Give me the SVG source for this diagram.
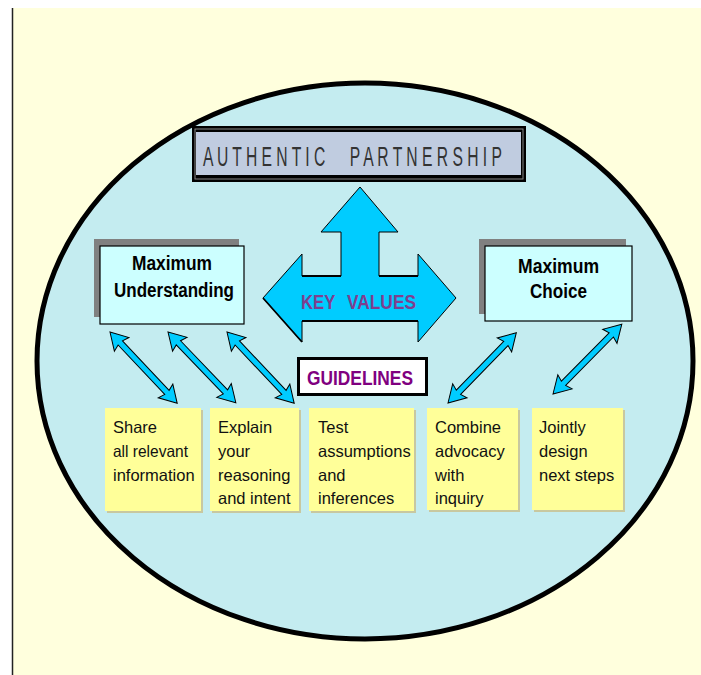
<svg xmlns="http://www.w3.org/2000/svg" xmlns:xlink="http://www.w3.org/1999/xlink" width="701" height="675" viewBox="0 0 701 675">
<style>
.lbl{font-family:"Liberation Sans",Arial,sans-serif;}
.box{fill:#CCFFFF;stroke:#000;stroke-width:1.2;}
.shadow{fill:#808080;}
.note{fill:#FFFF99;}
.noteShadow{fill:#C8C8A0;}
.ntext{font-family:"Liberation Sans",Arial,sans-serif;font-size:16.5px;fill:#111;}
.htext{font-family:"Liberation Sans",Arial,sans-serif;font-size:19.5px;font-weight:bold;fill:#000;}
.arrow{fill:#00CCFF;stroke:#000;stroke-width:1;stroke-linejoin:miter;}
.ap{font-family:"Liberation Sans",Arial,sans-serif;font-size:27px;fill:#333;}
.kv{font-family:"Liberation Sans",Arial,sans-serif;font-size:21px;font-weight:bold;fill:#7F3F8F;}
</style>
<defs>
<path id="dbl" d="M0,0 L17,-10 L15,-3 L83,-3 L81,-10 L98,0 L81,10 L83,3 L15,3 L17,10 Z"/>
</defs>
<rect x="0" y="0" width="701" height="675" fill="#FFFFFF"/>
<rect x="13" y="8" width="688" height="667" fill="#FFFFDD"/>
<line x1="12.5" y1="8" x2="12.5" y2="675" stroke="#222" stroke-width="1.5"/>
<ellipse cx="365" cy="361" rx="328" ry="278" fill="#C4ECF0" stroke="#000" stroke-width="5"/>

<g id="authentic-partnership">
<rect x="192" y="126" width="334" height="56" fill="#000"/>
<rect x="195" y="129" width="328" height="50" fill="none" stroke="#888" stroke-width="1"/>
<rect x="196" y="132" width="325" height="43" fill="#C0CCE0"/>
<text class="ap" transform="translate(203,166) scale(0.58,1)"><tspan x="0" y="0">A U T H E N T I C</tspan><tspan x="253" y="0">P A R T N E R S H I P</tspan></text>
</g>

<g id="key-values">
<path class="arrow" d="M360,187 L398,232 L379,232 L379,276 L418,276 L418,254 L456,298 L418,342 L418,321 L302,321 L302,342 L263,298 L302,254 L302,276 L341,276 L341,232 L321,232 Z"/>
<path d="M263,298 L302,342 M302,321 L418,321 M341,276 L302,276 M418,276 L379,276" fill="none" stroke="#000" stroke-width="1.8"/>
<text class="kv" y="309"><tspan x="301" textLength="34" lengthAdjust="spacingAndGlyphs">KEY</tspan> <tspan x="347" textLength="69" lengthAdjust="spacingAndGlyphs">VALUES</tspan></text>
</g>

<g id="max-understanding">
<rect class="shadow" x="94" y="239" width="145" height="78"/>
<rect class="box" x="100" y="246" width="144" height="78"/>
<text class="htext" x="132" y="270" textLength="80" lengthAdjust="spacingAndGlyphs">Maximum</text>
<text class="htext" x="114" y="297" textLength="120" lengthAdjust="spacingAndGlyphs">Understanding</text>
</g>

<g id="max-choice">
<rect class="shadow" x="479" y="239" width="147" height="75"/>
<rect class="box" x="485" y="246" width="147" height="75"/>
<text class="htext" x="518" y="273" textLength="81" lengthAdjust="spacingAndGlyphs">Maximum</text>
<text class="htext" x="530" y="298" textLength="57" lengthAdjust="spacingAndGlyphs">Choice</text>
</g>

<g id="guidelines">
<rect x="298.5" y="358.5" width="128" height="36" fill="#FFFFFF" stroke="#000" stroke-width="3"/>
<text class="lbl" x="307" y="385" font-size="19.5" font-weight="bold" fill="#800080" textLength="106" lengthAdjust="spacingAndGlyphs">GUIDELINES</text>
</g>

<g id="connectors">
<use xlink:href="#dbl" class="arrow" transform="translate(110,332) rotate(46.7)"/>
<use xlink:href="#dbl" class="arrow" transform="translate(168,332) rotate(46.2)"/>
<use xlink:href="#dbl" class="arrow" transform="translate(227,332) rotate(46.7)"/>
<use xlink:href="#dbl" class="arrow" transform="translate(448,403) rotate(-45.8)"/>
<use xlink:href="#dbl" class="arrow" transform="translate(553,394) rotate(-45.4)"/>
</g>

<g id="share">
<rect class="noteShadow" x="107" y="410" width="96" height="103"/>
<rect class="note" x="105" y="408" width="96" height="103"/>
<text class="ntext" x="113" y="433">Share</text>
<text class="ntext" x="113" y="457" textLength="75" lengthAdjust="spacingAndGlyphs">all relevant</text>
<text class="ntext" x="113" y="481">information</text>
</g>

<g id="explain">
<rect class="noteShadow" x="212" y="410" width="89" height="103"/>
<rect class="note" x="210" y="408" width="89" height="103"/>
<text class="ntext" x="218" y="433">Explain</text>
<text class="ntext" x="218" y="457">your</text>
<text class="ntext" x="218" y="481">reasoning</text>
<text class="ntext" x="218" y="504">and intent</text>
</g>

<g id="test">
<rect class="noteShadow" x="311" y="410" width="105" height="103"/>
<rect class="note" x="309" y="408" width="105" height="103"/>
<text class="ntext" x="318" y="433">Test</text>
<text class="ntext" x="318" y="457">assumptions</text>
<text class="ntext" x="318" y="481">and</text>
<text class="ntext" x="318" y="504">inferences</text>
</g>

<g id="combine">
<rect class="noteShadow" x="429" y="410" width="91" height="102"/>
<rect class="note" x="427" y="408" width="91" height="102"/>
<text class="ntext" x="435" y="433">Combine</text>
<text class="ntext" x="435" y="457">advocacy</text>
<text class="ntext" x="435" y="481">with</text>
<text class="ntext" x="435" y="504">inquiry</text>
</g>

<g id="jointly">
<rect class="noteShadow" x="534" y="410" width="91" height="102"/>
<rect class="note" x="532" y="408" width="91" height="102"/>
<text class="ntext" x="539" y="433">Jointly</text>
<text class="ntext" x="539" y="457">design</text>
<text class="ntext" x="539" y="481">next steps</text>
</g>
</svg>
